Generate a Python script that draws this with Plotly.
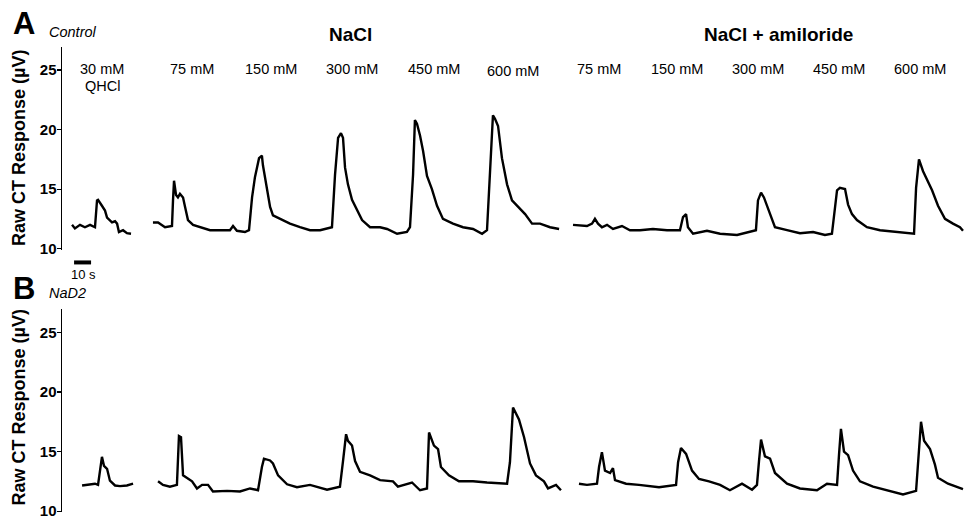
import plotly.graph_objects as go

# ---------------- data (time in s, response in µV) ----------------
# Panel A  (Control)
A_QHCL_T = [5.9, 7.6, 10.6, 13.5, 16.5, 19.4, 20.6, 21.2, 23.5, 25.3, 26.5, 29.4, 31.2, 32.4, 33.5, 35.9, 38.2, 40.6]
A_QHCL_V = [12.0, 11.7, 12.0, 11.8, 12.0, 11.8, 14.05, 14.1, 13.6, 13.2, 12.6, 12.2, 12.3, 12.1, 11.4, 11.55, 11.3, 11.25]

A_NACL_T = [53.5, 56.5, 60.6, 64.7, 65.3, 65.9, 67.1, 68.2, 69.4, 71.2, 72.4, 74.1, 77.1, 81.2, 87.1, 92.9, 98.8,
            100.6, 102.9, 107.6, 110.0, 111.8, 113.5, 115.9, 117.6, 118.2, 120.6, 122.4, 124.1, 128.2, 134.1, 140.0,
            145.9, 151.8, 158.8, 160.6, 162.4, 164.1, 165.3, 166.5, 168.2, 170.6, 173.5, 176.5, 181.2, 187.1, 191.2,
            197.1, 202.9, 204.7, 206.5, 207.6, 208.8, 210.6, 212.4, 214.7, 217.6, 220.6, 224.1, 230.0, 235.9, 241.8,
            247.1, 250.0, 251.8, 253.5, 254.7, 256.5, 258.8, 261.8, 264.7, 268.2, 272.4, 276.5, 281.2, 287.1, 292.4]
A_NACL_V = [12.2, 12.2, 11.8, 11.9, 14.05, 15.7, 14.5, 14.3, 14.6, 14.3, 13.5, 12.4, 12.0, 11.8, 11.55, 11.55, 11.55,
            11.9, 11.5, 11.4, 11.55, 14.3, 16.0, 17.6, 17.8, 17.0, 14.9, 13.5, 12.8, 12.5, 12.1, 11.8,
            11.55, 11.55, 11.8, 16.2, 19.3, 19.7, 19.3, 16.8, 15.4, 14.1, 13.2, 12.4, 11.8, 11.8, 11.65,
            11.25, 11.4, 11.8, 16.2, 20.8, 20.5, 19.5, 18.2, 16.1, 15.0, 13.6, 12.5, 12.1, 11.8, 11.65,
            11.25, 11.55, 16.5, 21.2, 20.9, 20.3, 17.6, 15.4, 14.05, 13.5, 12.9, 12.1, 12.1, 11.8, 11.65]

A_AMIL_T = [300.6, 308.8, 311.8, 313.5, 315.3, 317.6, 320.6, 324.1, 329.4, 334.1, 340.0, 347.6, 355.9, 363.5, 365.3,
            367.1, 368.2, 371.2, 379.4, 387.1, 397.1, 404.7, 408.2, 409.4, 411.2, 412.9, 416.5, 419.4, 426.5, 434.1,
            441.8, 448.8, 452.9, 455.9, 457.6, 460.6, 462.4, 464.7, 467.6, 473.5, 481.2, 491.2, 498.2, 501.2, 502.4,
            504.1, 506.5, 508.8, 511.8, 515.3, 519.4, 524.1, 528.2, 530.0]
A_AMIL_V = [12.0, 11.9, 12.1, 12.5, 12.1, 11.8, 12.0, 11.65, 11.9, 11.55, 11.55, 11.65, 11.55, 11.55, 12.65,
            12.9, 11.8, 11.25, 11.5, 11.25, 11.15, 11.4, 11.55, 14.05, 14.7, 14.3, 12.9, 11.8, 11.55, 11.3,
            11.4, 11.15, 11.25, 14.9, 15.1, 15.0, 13.7, 12.9, 12.4, 11.8, 11.55, 11.4, 11.25, 11.25, 15.1,
            17.5, 16.5, 15.8, 14.9, 13.6, 12.5, 12.1, 11.8, 11.5]

# Panel B  (NaD2)
B_QHCL_T = [11.8, 15.3, 19.4, 21.2, 22.4, 23.5, 24.7, 26.5, 28.2, 31.2, 34.1, 38.2, 41.8]
B_QHCL_V = [12.15, 12.2, 12.3, 12.2, 13.4, 14.55, 13.8, 13.55, 12.55, 12.15, 12.1, 12.15, 12.3]

B_NACL_T = [56.5, 59.4, 63.5, 67.6, 68.8, 70.0, 71.2, 74.1, 76.5, 79.4, 82.4, 85.9, 88.8, 97.1, 104.7,
            110.6, 115.3, 117.6, 118.8, 122.4, 124.1, 127.1, 132.4, 138.2, 145.9, 155.9, 163.5, 165.3,
            167.1, 168.2, 170.6, 172.4, 175.3, 181.2, 187.1, 194.7, 197.6, 205.9, 210.6, 214.7, 215.9, 218.8,
            221.2, 222.9, 227.6, 233.5, 241.8, 250.0, 261.8, 263.5, 265.3, 268.8, 271.8, 275.3, 278.8,
            283.5, 285.9, 290.6, 293.5]
B_NACL_V = [12.5, 12.2, 12.05, 12.2, 16.3, 16.2, 13.0, 12.7, 12.5, 11.9, 12.2, 12.2, 11.65, 11.7, 11.65,
            11.9, 11.75, 13.7, 14.4, 14.25, 14.0, 13.0, 12.25, 12.0, 12.2, 11.8, 12.05, 14.2,
            16.45, 15.9, 15.5, 14.2, 13.3, 13.0, 12.6, 12.5, 12.05, 12.4, 11.75, 11.9, 16.6, 15.5,
            15.2, 13.7, 13.0, 12.5, 12.5, 12.4, 12.3, 14.1, 18.7, 17.7, 16.2, 14.0, 13.0,
            12.5, 11.9, 12.2, 11.75]

B_AMIL_T = [304.1, 308.8, 314.7, 315.9, 317.6, 319.4, 322.4, 324.1, 325.3, 331.8, 339.4, 351.2, 361.2, 362.4,
            364.1, 367.1, 370.6, 374.7, 380.6, 387.1, 392.9, 400.0, 405.9, 408.8, 410.0, 411.2, 413.5, 416.5,
            419.4, 426.5, 434.1, 444.1, 450.0, 455.9, 457.1, 458.2, 460.0, 462.4, 465.3, 469.4, 477.1, 485.3,
            494.7, 502.4, 503.5, 505.3, 507.1, 510.6, 513.5, 515.3, 521.2, 526.5, 530.0]
B_AMIL_V = [12.3, 12.2, 12.3, 13.7, 14.95, 13.4, 13.2, 13.6, 12.6, 12.3, 12.2, 12.0, 12.2, 14.1,
            15.3, 14.8, 13.4, 12.7, 12.5, 12.2, 11.75, 12.3, 11.8, 12.2, 14.2, 16.0, 14.6, 14.4,
            13.2, 12.3, 11.9, 11.75, 12.3, 12.2, 14.8, 16.9, 15.0, 14.7, 13.4, 12.5, 12.05, 11.75,
            11.4, 11.7, 14.2, 17.5, 15.9, 15.2, 13.9, 12.8, 12.3, 12.05, 11.85]

Y_TICKS = [10, 15, 20, 25]
CONC_LABELS = ["30 mM", "75 mM", "150 mM", "300 mM", "450 mM", "600 mM",
               "75 mM", "150 mM", "300 mM", "450 mM", "600 mM"]
GROUP_LABELS = ["NaCl", "NaCl + amiloride"]
PANEL_LABELS = ["A", "B"]
PANEL_NAMES = ["Control", "NaD2"]
SCALE_BAR_S = 10

# ---------------- figure ----------------
W, H = 965, 523
FONT = "Arial, Liberation Sans, sans-serif"

def px(x):
    return x / W

def py(y):
    return 1 - y / H

fig = go.Figure()
line = dict(color="black", width=2.4)
for t, v in [(A_QHCL_T, A_QHCL_V), (A_NACL_T, A_NACL_V), (A_AMIL_T, A_AMIL_V)]:
    fig.add_trace(go.Scatter(x=t, y=v, mode="lines", line=line, xaxis="x", yaxis="y",
                             showlegend=False, hoverinfo="skip"))
for t, v in [(B_QHCL_T, B_QHCL_V), (B_NACL_T, B_NACL_V), (B_AMIL_T, B_AMIL_V)]:
    fig.add_trace(go.Scatter(x=t, y=v, mode="lines", line=line, xaxis="x2", yaxis="y2",
                             showlegend=False, hoverinfo="skip"))

xr = [0, (W - 62) / 1.7]
xdom = [62 / W, 1.0]
yaxis_common = dict(showline=True, linecolor="black", linewidth=1.5, ticks="outside", ticklen=4,
                    tickwidth=1.2, tickcolor="black", tickvals=Y_TICKS, showgrid=False, zeroline=False,
                    ticklabelstandoff=-3,
                    tickfont=dict(family=FONT, size=15, color="black", weight="bold"), fixedrange=True)

fig.update_layout(
    width=W, height=H,
    margin=dict(l=0, r=0, t=0, b=0),
    paper_bgcolor="white", plot_bgcolor="white",
    xaxis=dict(domain=xdom, range=xr, visible=False, anchor="y", fixedrange=True),
    xaxis2=dict(domain=xdom, range=xr, visible=False, anchor="y2", fixedrange=True),
    yaxis=dict(domain=[py(253), py(48)], range=[9.92, 26.9], anchor="x", **yaxis_common),
    yaxis2=dict(domain=[py(519), py(313)], range=[9.92, 26.98], anchor="x2", **yaxis_common),
)

ann = []
for lab, name, ycen, ynm in [(PANEL_LABELS[0], PANEL_NAMES[0], 24, 32), (PANEL_LABELS[1], PANEL_NAMES[1], 292, 297)]:
    ann.append(dict(text=lab, x=px(24), y=py(ycen), xref="paper", yref="paper", showarrow=False,
                    xanchor="center", yanchor="middle",
                    font=dict(family=FONT, size=31, color="black", weight="bold")))
    ann.append(dict(text="<i>" + name + "</i>", x=px(47), y=py(ynm), xref="paper", yref="paper",
                    showarrow=False, xanchor="left", yanchor="middle",
                    font=dict(family=FONT, size=14.5, color="black")))
for ycen in [150, 413]:
    ann.append(dict(text="Raw CT Response (µV)", x=px(19), y=py(ycen), xref="paper", yref="paper",
                    showarrow=False, textangle=-90, xanchor="center", yanchor="middle",
                    font=dict(family=FONT, size=18, color="black", weight="bold")))
for lab, xc in zip(GROUP_LABELS, [350, 778]):
    ann.append(dict(text=lab, x=px(xc), y=py(35), xref="paper", yref="paper", showarrow=False,
                    xanchor="center", yanchor="middle",
                    font=dict(family=FONT, size=19, color="black", weight="bold")))
conc_x = [102, 192, 271, 352, 434, 513, 599, 677, 758, 839, 920]
conc_y = [70, 70, 70, 70, 70, 72, 70, 70, 70, 70, 70]
for lab, xc, yc in zip(CONC_LABELS, conc_x, conc_y):
    ann.append(dict(text=lab, x=px(xc), y=py(yc), xref="paper", yref="paper", showarrow=False,
                    xanchor="center", yanchor="middle",
                    font=dict(family=FONT, size=14.5, color="black")))
ann.append(dict(text="QHCl", x=px(102), y=py(87), xref="paper", yref="paper", showarrow=False,
                xanchor="center", yanchor="middle", font=dict(family=FONT, size=14.5, color="black")))
ann.append(dict(text=f"{SCALE_BAR_S} s", x=px(83), y=py(278), xref="paper", yref="paper", showarrow=False,
                xanchor="center", yanchor="middle", font=dict(family=FONT, size=13, color="black")))
fig.update_layout(annotations=ann)

bar_start = 7.1
fig.add_shape(type="line", xref="x", yref="paper", x0=bar_start, x1=bar_start + SCALE_BAR_S,
              y0=py(266), y1=py(266), line=dict(color="black", width=4))

fig.write_html("out.html", config={"displayModeBar": False, "staticPlot": True},
               post_script="document.body.style.margin='0px';")
